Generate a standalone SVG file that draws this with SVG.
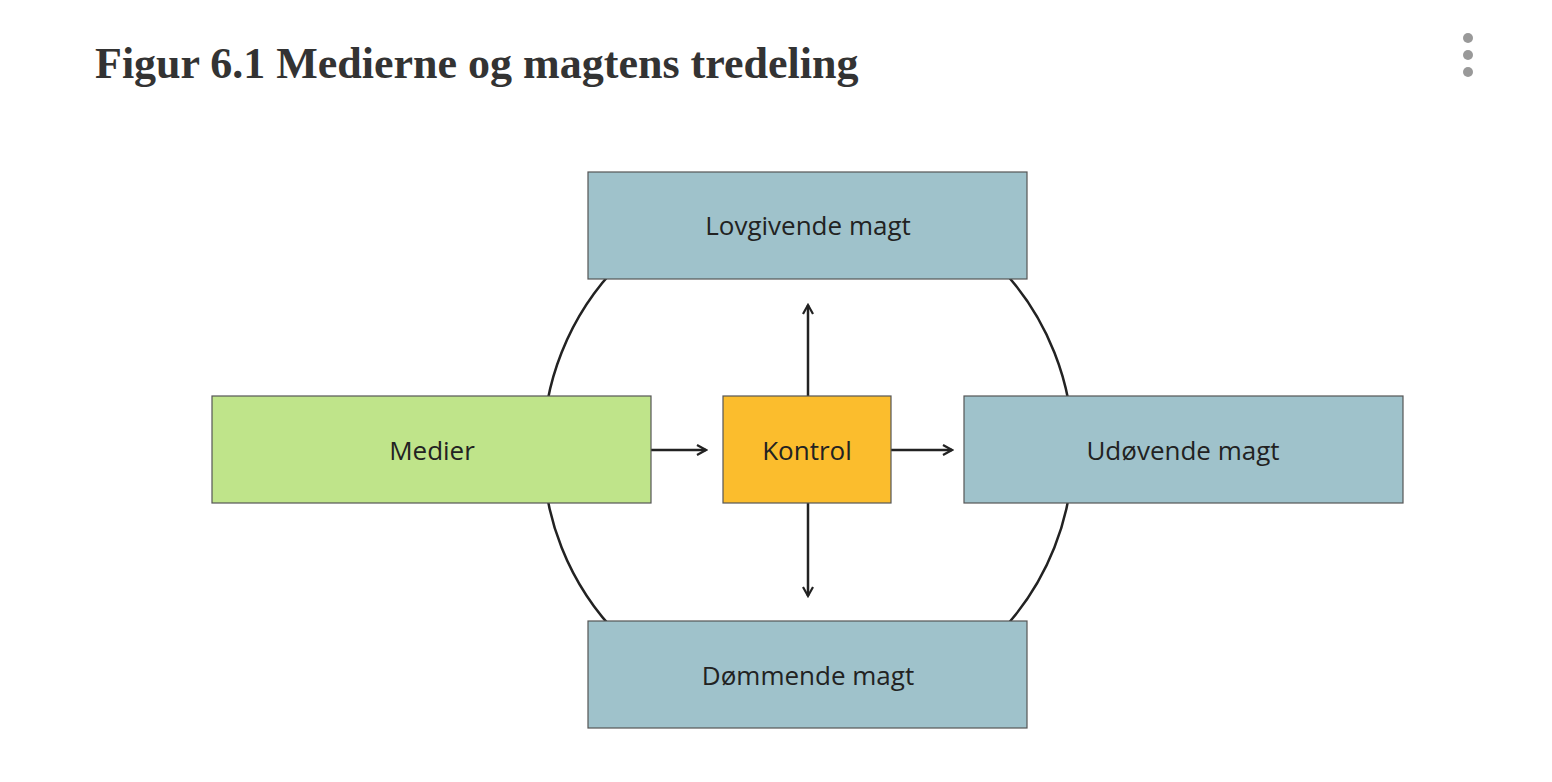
<svg xmlns="http://www.w3.org/2000/svg" width="1552" height="782" viewBox="0 0 1552 782">
<style>
.box{stroke:#555;stroke-width:1.2}
.lbl{font-family:"Open Sans","Liberation Sans",sans-serif;font-size:26px;fill:#222;text-anchor:middle;dominant-baseline:central}
.ln{stroke:#222;stroke-width:2.5;fill:none}
</style>
<defs>
<marker id="ah" viewBox="0 0 12 12" refX="10" refY="6" markerWidth="12" markerHeight="12" markerUnits="userSpaceOnUse" orient="auto">
<path d="M1,1 L10,6 L1,11" fill="none" stroke="#222" stroke-width="2.2"/>
</marker>
</defs>
<rect width="1552" height="782" fill="#fff"/>
<text x="95" y="78" font-family="Liberation Serif,serif" font-weight="bold" font-size="44" fill="#333">Figur 6.1 Medierne og magtens tredeling</text>
<g fill="#999"><circle cx="1468" cy="38" r="5"/><circle cx="1468" cy="55" r="5"/><circle cx="1468" cy="72" r="5"/></g>
<g id="connectors">
<circle class="ln" cx="808" cy="450" r="265" stroke-width="2"/>
<line class="ln" x1="651" y1="450" x2="706" y2="450" marker-end="url(#ah)"/>
<line class="ln" x1="891" y1="450" x2="952" y2="450" marker-end="url(#ah)"/>
<line class="ln" x1="808" y1="396" x2="808" y2="305" marker-end="url(#ah)"/>
<line class="ln" x1="808" y1="503" x2="808" y2="596" marker-end="url(#ah)"/>
</g>
<g id="lovgivende"><rect class="box" x="588" y="172" width="439" height="107" fill="#9fc2cb"/><text class="lbl" x="808" y="225">Lovgivende magt</text></g>
<g id="medier"><rect class="box" x="212" y="396" width="439" height="107" fill="#bfe48a"/><text class="lbl" x="432" y="450">Medier</text></g>
<g id="kontrol"><rect class="box" x="723" y="396" width="168" height="107" fill="#fbbd2d"/><text class="lbl" x="807" y="450">Kontrol</text></g>
<g id="udovende"><rect class="box" x="964" y="396" width="439" height="107" fill="#9fc2cb"/><text class="lbl" x="1183" y="450">Udøvende magt</text></g>
<g id="dommende"><rect class="box" x="588" y="621" width="439" height="107" fill="#9fc2cb"/><text class="lbl" x="808" y="675">Dømmende magt</text></g>
</svg>
